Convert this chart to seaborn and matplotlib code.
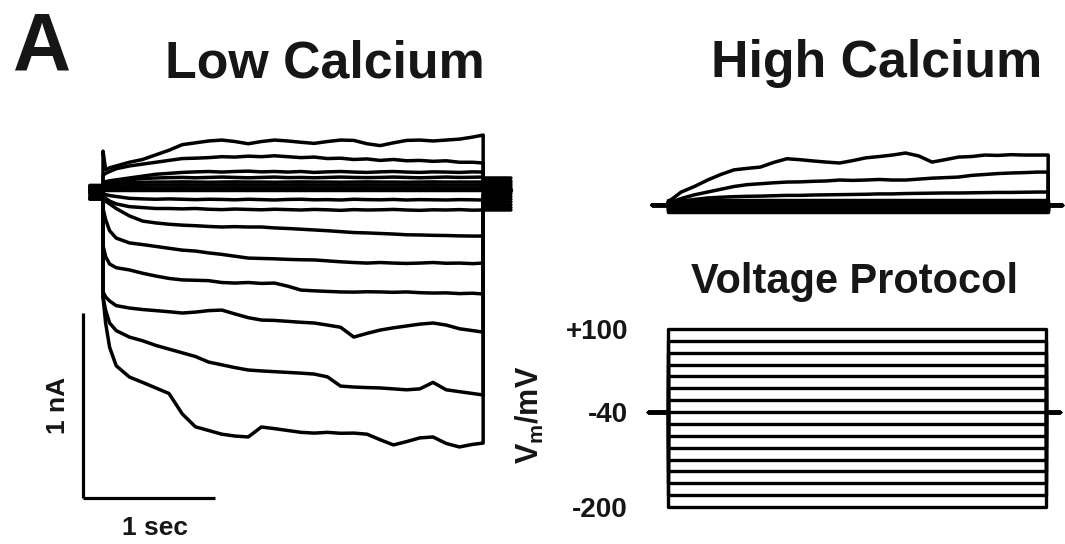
import numpy as np
import pandas as pd
import matplotlib
matplotlib.use("Agg")
import matplotlib.pyplot as plt
import seaborn as sns

sns.set_style("white")
plt.rcParams["font.family"] = ["Liberation Sans", "DejaVu Sans"]
plt.rcParams["font.weight"] = "bold"
plt.rcParams["mathtext.fontset"] = "custom"
plt.rcParams["mathtext.rm"] = "Liberation Sans:bold"
plt.rcParams["mathtext.bf"] = "Liberation Sans:bold"
plt.rcParams["mathtext.it"] = "Liberation Sans:bold"

# ---------------- data ----------------
VOLTAGES = [100, 80, 60, 40, 20, 0, -20, -40, -60, -80, -100, -120, -140, -160, -180, -200]
HOLD_MV = -40
STEP_ON = 0.0          # s
STEP_OFF = 2.88        # s
PRE_T_LOW, POST_T_LOW = -0.10, 3.09
PRE_T_HIGH, POST_T_HIGH = -0.12, 2.985
PROTO_START, PROTO_END, PROTO_OFF = -0.152, 2.97, 2.86

LOW_T = [0.00, 0.02, 0.05, 0.10, 0.20, 0.30, 0.40, 0.50, 0.60, 0.70, 0.80, 0.90,
         1.00, 1.10, 1.20, 1.30, 1.40, 1.50, 1.60, 1.70, 1.80, 1.90, 2.00, 2.10,
         2.20, 2.30, 2.40, 2.50, 2.60, 2.70, 2.80, 2.88]

# low calcium currents (nA), one array per step potential
I_P100 = [0.21, 0.11, 0.12, 0.13, 0.15, 0.165, 0.19, 0.215, 0.245, 0.255, 0.265, 0.27, 0.262, 0.25, 0.262, 0.27,
          0.265, 0.258, 0.252, 0.262, 0.27, 0.268, 0.25, 0.24, 0.255, 0.268, 0.27, 0.265, 0.27, 0.275, 0.286, 0.297]
I_P80 = [0.08, 0.09, 0.10, 0.115, 0.13, 0.14, 0.15, 0.16, 0.17, 0.172, 0.175, 0.18, 0.178, 0.183, 0.18, 0.185,
         0.18, 0.175, 0.178, 0.17, 0.172, 0.165, 0.168, 0.16, 0.165, 0.158, 0.16, 0.155, 0.158, 0.15, 0.15, 0.146]
I_P60 = [0.04, 0.045, 0.05, 0.055, 0.065, 0.075, 0.085, 0.09, 0.095, 0.098, 0.1, 0.097, 0.1, 0.102, 0.098, 0.1,
         0.097, 0.1, 0.095, 0.098, 0.1, 0.097, 0.095, 0.098, 0.1, 0.097, 0.095, 0.098, 0.097, 0.095, 0.098, 0.097]
I_P40 = [0.03, 0.035, 0.04, 0.045, 0.055, 0.062, 0.065, 0.067, 0.068, 0.066, 0.068, 0.07, 0.068, 0.066, 0.068, 0.07,
         0.067, 0.068, 0.066, 0.068, 0.07, 0.068, 0.067, 0.068, 0.07, 0.068, 0.066, 0.068, 0.07, 0.068, 0.069, 0.07]
I_P20 = [0.02, 0.025, 0.03, 0.035, 0.04, 0.042, 0.043, 0.043, 0.044, 0.043, 0.042, 0.043, 0.044, 0.043, 0.043, 0.042,
         0.043, 0.044, 0.043, 0.043, 0.042, 0.043, 0.044, 0.043, 0.043, 0.042, 0.043, 0.044, 0.043, 0.043, 0.043, 0.043]
I_0 = [0.012, 0.015, 0.018, 0.02, 0.024, 0.026, 0.027, 0.027, 0.028, 0.027, 0.026, 0.027, 0.028, 0.027, 0.027, 0.026,
       0.027, 0.028, 0.027, 0.027, 0.026, 0.027, 0.028, 0.027, 0.027, 0.026, 0.027, 0.028, 0.027, 0.027, 0.027, 0.027]
I_M20 = [0.005, 0.007, 0.008, 0.009, 0.01, 0.011, 0.011, 0.011, 0.012, 0.011, 0.01, 0.011, 0.012, 0.011, 0.011, 0.01,
         0.011, 0.012, 0.011, 0.011, 0.01, 0.011, 0.012, 0.011, 0.011, 0.01, 0.011, 0.012, 0.011, 0.011, 0.011, 0.011]
I_M40 = [0.0, 0.0, 0.0, 0.0, 0.0, 0.0, 0.0, 0.0, 0.0, 0.0, 0.0, 0.0, 0.0, 0.0, 0.0, 0.0,
         0.0, 0.0, 0.0, 0.0, 0.0, 0.0, 0.0, 0.0, 0.0, 0.0, 0.0, 0.0, 0.0, 0.0, 0.0, 0.0]
I_M60 = [-0.02, -0.025, -0.03, -0.035, -0.045, -0.048, -0.05, -0.048, -0.05, -0.052, -0.05, -0.051, -0.053, -0.05,
         -0.052, -0.054, -0.051, -0.05, -0.053, -0.052, -0.054, -0.05, -0.052, -0.053, -0.051, -0.054, -0.052,
         -0.053, -0.054, -0.052, -0.053, -0.054]
I_M80 = [-0.03, -0.045, -0.06, -0.075, -0.09, -0.095, -0.1, -0.1, -0.102, -0.1, -0.104, -0.106, -0.103, -0.105,
         -0.107, -0.104, -0.106, -0.108, -0.105, -0.107, -0.11, -0.106, -0.108, -0.107, -0.105, -0.108, -0.11,
         -0.107, -0.108, -0.106, -0.109, -0.108]
I_M100 = [-0.05, -0.06, -0.075, -0.1, -0.14, -0.168, -0.178, -0.185, -0.19, -0.193, -0.197, -0.2, -0.198, -0.2,
          -0.2, -0.205, -0.208, -0.212, -0.216, -0.22, -0.225, -0.23, -0.232, -0.235, -0.238, -0.242, -0.243,
          -0.245, -0.246, -0.248, -0.249, -0.249]
I_M120 = [-0.1, -0.16, -0.22, -0.26, -0.286, -0.295, -0.305, -0.315, -0.325, -0.33, -0.34, -0.348, -0.358, -0.368,
          -0.37, -0.372, -0.375, -0.377, -0.378, -0.383, -0.388, -0.392, -0.395, -0.392, -0.395, -0.397, -0.395,
          -0.392, -0.396, -0.395, -0.398, -0.395]
I_M140 = [-0.3, -0.36, -0.4, -0.42, -0.432, -0.45, -0.465, -0.478, -0.486, -0.488, -0.49, -0.5, -0.503, -0.5,
          -0.505, -0.503, -0.52, -0.541, -0.545, -0.548, -0.551, -0.552, -0.55, -0.551, -0.553, -0.551, -0.555,
          -0.557, -0.556, -0.56, -0.558, -0.562]
I_M160 = [-0.55, -0.578, -0.6, -0.625, -0.638, -0.646, -0.652, -0.658, -0.665, -0.66, -0.652, -0.649, -0.67, -0.69,
          -0.703, -0.705, -0.71, -0.715, -0.719, -0.73, -0.742, -0.795, -0.775, -0.757, -0.745, -0.735, -0.725,
          -0.719, -0.73, -0.75, -0.76, -0.768]
I_M180 = [-0.58, -0.65, -0.719, -0.76, -0.795, -0.815, -0.84, -0.86, -0.88, -0.9, -0.93, -0.945, -0.96, -0.973,
          -0.978, -0.982, -0.986, -0.99, -0.995, -1.01, -1.06, -1.065, -1.068, -1.07, -1.075, -1.08, -1.075, -1.04,
          -1.08, -1.09, -1.1, -1.108]
I_M200 = [-0.578, -0.72, -0.85, -0.95, -1.011, -1.04, -1.07, -1.1, -1.21, -1.28, -1.3, -1.32, -1.33, -1.335,
          -1.281, -1.29, -1.3, -1.31, -1.314, -1.31, -1.315, -1.314, -1.32, -1.35, -1.378, -1.36, -1.34, -1.335,
          -1.37, -1.389, -1.375, -1.368]
LOW_PRE = [0.025, 0.02, 0.015, 0.01, 0.005, 0.0, 0.0, 0.0, -0.005, -0.01, -0.015, -0.02, -0.03, -0.04, -0.045, -0.05]
LOW_TAIL = [0.065, 0.05, 0.04, 0.03, 0.02, 0.01, 0.005, 0.0, -0.01, -0.02, -0.035, -0.05, -0.065, -0.08, -0.095, -0.108]

# high calcium currents (nA)
HIGH_T = [0.0, 0.1, 0.2, 0.3, 0.4, 0.5, 0.6, 0.7, 0.8, 0.9, 1.0, 1.1, 1.2, 1.3, 1.4, 1.5, 1.6, 1.7, 1.8, 1.9,
          2.0, 2.1, 2.2, 2.3, 2.4, 2.5, 2.6, 2.7, 2.8, 2.88]
H_1 = [0.016, 0.07, 0.1, 0.135, 0.165, 0.19, 0.198, 0.205, 0.23, 0.25, 0.245, 0.238, 0.232, 0.227, 0.24, 0.255,
       0.262, 0.27, 0.281, 0.265, 0.232, 0.245, 0.259, 0.262, 0.27, 0.268, 0.272, 0.27, 0.27, 0.27]
H_2 = [0.01, 0.035, 0.055, 0.07, 0.085, 0.1, 0.11, 0.115, 0.12, 0.124, 0.125, 0.128, 0.13, 0.135, 0.133, 0.135,
       0.138, 0.135, 0.135, 0.14, 0.145, 0.148, 0.151, 0.16, 0.165, 0.17, 0.173, 0.175, 0.178, 0.178]
H_3 = [0.005, 0.02, 0.03, 0.038, 0.042, 0.045, 0.047, 0.048, 0.05, 0.052, 0.052, 0.054, 0.055, 0.056, 0.057, 0.058,
       0.06, 0.06, 0.062, 0.063, 0.064, 0.065, 0.065, 0.066, 0.067, 0.068, 0.068, 0.069, 0.07, 0.07]
HIGH_FLAT = [0.025, 0.015, 0.008, 0.0, -0.006, -0.012, -0.018, -0.025, -0.032, -0.04]

# scale bars
SCALE_T0, SCALE_I0 = -0.152, -1.665
SCALE_T_LEN, SCALE_I_LEN = 1.0, 1.0

# ---------------- build tables ----------------
LOW_SWEEPS = [I_P100, I_P80, I_P60, I_P40, I_P20, I_0, I_M20, I_M40,
              I_M60, I_M80, I_M100, I_M120, I_M140, I_M160, I_M180, I_M200]
rows = []
for k, (v, cur) in enumerate(zip(VOLTAGES, LOW_SWEEPS)):
    rows.append((k, PRE_T_LOW, LOW_PRE[k]))
    rows.append((k, STEP_ON, LOW_PRE[k]))
    for t, i in zip(LOW_T, cur):
        rows.append((k, t, i))
    rows.append((k, STEP_OFF, LOW_TAIL[k]))
    rows.append((k, POST_T_LOW, LOW_TAIL[k]))
df_low = pd.DataFrame(rows, columns=["sweep", "t", "I"])

high_sweeps = [H_1, H_2, H_3] + [[c] * len(HIGH_T) for c in HIGH_FLAT]
rows = []
for k, cur in enumerate(high_sweeps):
    rows.append((k, PRE_T_HIGH, 0.0))
    rows.append((k, STEP_ON, 0.0))
    for t, i in zip(HIGH_T, cur):
        rows.append((k, t, i))
    rows.append((k, STEP_OFF, 0.0))
    rows.append((k, POST_T_HIGH, 0.0))
df_high = pd.DataFrame(rows, columns=["sweep", "t", "I"])

rows = []
for k, v in enumerate(VOLTAGES):
    for t, vm in [(PROTO_START, HOLD_MV), (STEP_ON, HOLD_MV), (STEP_ON, v),
                  (PROTO_OFF, v), (PROTO_OFF, HOLD_MV), (PROTO_END, HOLD_MV)]:
        rows.append((k, t, vm))
df_v = pd.DataFrame(rows, columns=["sweep", "t", "V"])

# ---------------- figure ----------------
W, H = 1065, 544
fig = plt.figure(figsize=(W / 100, H / 100), dpi=100)
fig.patch.set_facecolor("white")


def px_axes(x0, y0, x1, y1):
    return fig.add_axes([x0 / W, 1 - y1 / H, (x1 - x0) / W, (y1 - y0) / H])


LW = 2.5
TXT = "#161616"

# low calcium
ax1 = px_axes(60, 120, 530, 505)
sns.lineplot(data=df_low, x="t", y="I", units="sweep", estimator=None, sort=False,
             color="black", lw=LW, ax=ax1, legend=False)
ax1.set_xlim(-0.3258, 3.2348)
ax1.set_ylim(-1.7027, 0.3784)
ax1.axis("off")
ax1.plot([SCALE_T0, SCALE_T0], [SCALE_I0, SCALE_I0 + SCALE_I_LEN], color="black", lw=2.3,
         solid_capstyle="butt", clip_on=False)
ax1.plot([SCALE_T0, SCALE_T0 + SCALE_T_LEN], [SCALE_I0, SCALE_I0], color="black", lw=2.3,
         solid_capstyle="butt", clip_on=False)
ax1.text(SCALE_T0 - 0.19, SCALE_I0 + SCALE_I_LEN / 2, "1 nA", rotation=90, ha="center", va="center",
         fontsize=19, fontweight="bold", color=TXT)
ax1.text(SCALE_T0 + 0.546, SCALE_I0 - 0.162, "1 sec", ha="center", va="center",
         fontsize=19, fontweight="bold", color=TXT)

# high calcium
ax2 = px_axes(640, 130, 1065, 230)
sns.lineplot(data=df_high, x="t", y="I", units="sweep", estimator=None, sort=False,
             color="black", lw=LW, ax=ax2, legend=False)
ax2.set_xlim(-0.2121, 3.0076)
ax2.set_ylim(-0.1351, 0.4054)
ax2.axis("off")

# voltage protocol
ax3 = px_axes(640, 310, 1065, 520)
sns.lineplot(data=df_v, x="t", y="V", units="sweep", estimator=None, sort=False,
             color="black", lw=2.4, ax=ax3, legend=False)
ax3.set_xlim(-0.2121, 3.0076)
ax3.set_ylim(-221.9, 132.0)
for s in ax3.spines.values():
    s.set_visible(False)
ax3.set_xticks([])
ax3.set_xlabel("")
ax3.set_yticks([100, -40, -200])
ax3.set_yticklabels(["+100", "-40", "-200"], fontsize=20, fontweight="bold", color=TXT)
ax3.tick_params(axis="y", length=0, pad=8.6)
ax3.set_ylabel(r"$\mathbf{V_m/mV}$", fontsize=22, color=TXT)
ax3.yaxis.set_label_coords(-0.222, 0.5)
ax3.grid(False)

# titles
fig.text(13 / W, 1 - 70 / H, "A", ha="left", va="baseline", fontsize=58, fontweight="bold", color=TXT)
fig.text(325 / W, 1 - 77 / H, "Low Calcium", ha="center", va="baseline", fontsize=37.4,
         fontweight="bold", color=TXT)
fig.text(876.5 / W, 1 - 77 / H, "High Calcium", ha="center", va="baseline", fontsize=37.4,
         fontweight="bold", color=TXT)
fig.text(855 / W, 1 - 293 / H, "Voltage Protocol", ha="center", va="baseline", fontsize=29.9,
         fontweight="bold", color=TXT)

fig.savefig("out.png", dpi=100, facecolor="white")
